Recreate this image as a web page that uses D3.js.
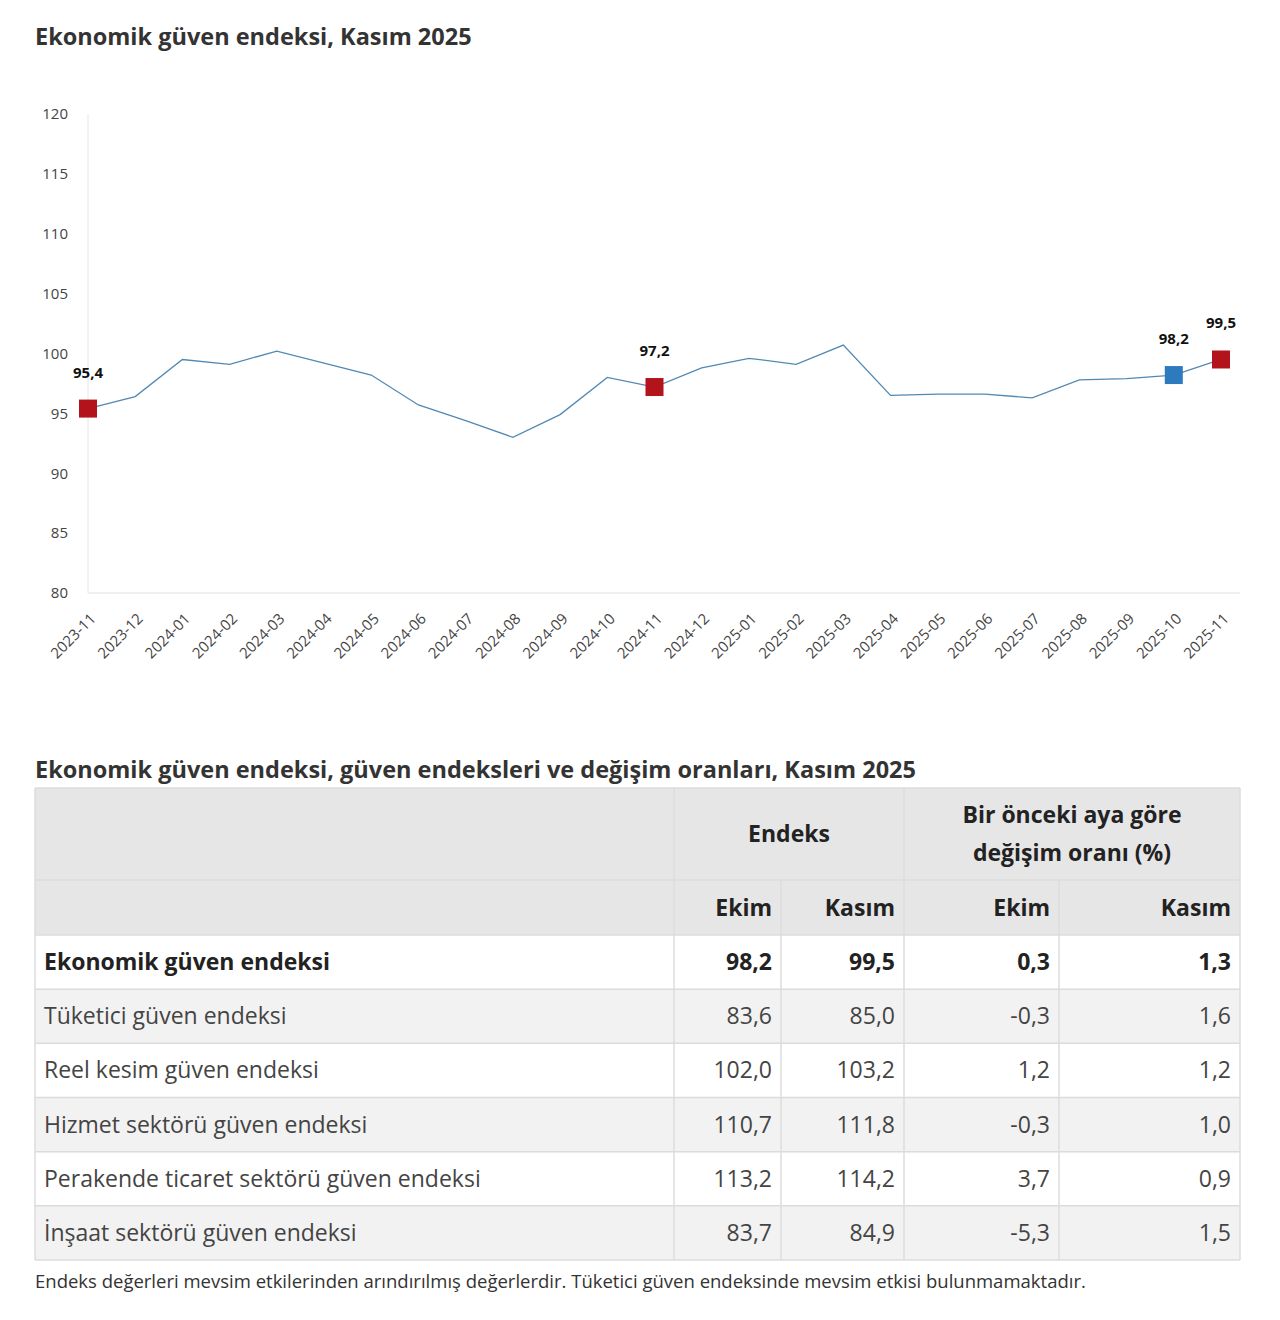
<!DOCTYPE html>
<html>
<head>
<meta charset="utf-8">
<script src="https://cdn.jsdelivr.net/npm/d3@7"></script>
<style>
  body { margin: 0; background: #fff; }
  svg { display: block; font-family: "Open Sans", sans-serif; }
  .tick-y { font-size: 15px; fill: #444; }
  .tick-x { font-size: 15px; fill: #444; }
</style>
</head>
<body>
<svg class="main" width="1280" height="1320"></svg>
<script>
// chart data
const months = [
  "2023-11", "2023-12", "2024-01", "2024-02", "2024-03", "2024-04", "2024-05",
  "2024-06", "2024-07", "2024-08", "2024-09", "2024-10", "2024-11", "2024-12",
  "2025-01", "2025-02", "2025-03", "2025-04", "2025-05", "2025-06", "2025-07",
  "2025-08", "2025-09", "2025-10", "2025-11"
];
const values = [
  95.4, 96.4, 99.5, 99.1, 100.2, 99.2, 98.2, 95.7, 94.4, 93.0, 94.9, 98.0,
  97.2, 98.8, 99.6, 99.1, 100.7, 96.5, 96.6, 96.6, 96.3, 97.8, 97.9, 98.2, 99.5
];
const yTicks = [80, 85, 90, 95, 100, 105, 110, 115, 120];
// highlighted points
const markedRed = ["2023-11", "2024-11", "2025-11"];
const markedBlue = ["2025-10"];

// table data
const rowNames = [
  "Ekonomik güven endeksi",
  "Tüketici güven endeksi",
  "Reel kesim güven endeksi",
  "Hizmet sektörü güven endeksi",
  "Perakende ticaret sektörü güven endeksi",
  "İnşaat sektörü güven endeksi"
];
const indexEkim = ["98,2", "83,6", "102,0", "110,7", "113,2", "83,7"];
const indexKasim = ["99,5", "85,0", "103,2", "111,8", "114,2", "84,9"];
const changeEkim = ["0,3", "-0,3", "1,2", "-0,3", "3,7", "-5,3"];
const changeKasim = ["1,3", "1,6", "1,2", "1,0", "0,9", "1,5"];

const svg = d3.select(".main");

// ---- chart ----
svg.append("text")
  .attr("x", 35).attr("y", 45)
  .attr("font-size", 23.5).attr("font-weight", 700).attr("fill", "#333")
  .text("Ekonomik güven endeksi, Kasım 2025");

const x = d3.scalePoint().domain(months).range([88, 1221]);
const y = d3.scaleLinear().domain([80, 120]).range([593, 114]);

const chart = svg.append("g");

chart.append("line")
  .attr("x1", 88).attr("x2", 88)
  .attr("y1", y(120)).attr("y2", y(80))
  .attr("stroke", "#e6e6e6");
chart.append("line")
  .attr("x1", 88).attr("x2", 1240)
  .attr("y1", y(80)).attr("y2", y(80))
  .attr("stroke", "#e0e0e0");

chart.selectAll(".tick-y")
  .data(yTicks)
  .join("text")
  .attr("class", "tick-y")
  .attr("x", 68)
  .attr("y", d => y(d))
  .attr("dy", "0.35em")
  .attr("text-anchor", "end")
  .text(d => d);

chart.selectAll(".tick-x")
  .data(months)
  .join("text")
  .attr("class", "tick-x")
  .attr("transform", d => `translate(${x(d) + 5},${616}) rotate(-45)`)
  .attr("text-anchor", "end")
  .attr("dy", "0.35em")
  .text(d => d);

const line = d3.line()
  .x((d, i) => x(months[i]))
  .y(d => y(d));

chart.append("path")
  .datum(values)
  .attr("d", line)
  .attr("fill", "none")
  .attr("stroke", "#5289b3")
  .attr("stroke-width", 1.3);

const marked = months
  .map((m, i) => ({ m, v: values[i] }))
  .filter(d => markedRed.includes(d.m) || markedBlue.includes(d.m));

const size = 18;
chart.selectAll(".marker")
  .data(marked)
  .join("rect")
  .attr("class", "marker")
  .attr("x", d => x(d.m) - size / 2)
  .attr("y", d => y(d.v) - size / 2)
  .attr("width", size)
  .attr("height", size)
  .attr("fill", d => (markedBlue.includes(d.m) ? "#2e7abf" : "#b3141c"));

chart.selectAll(".label")
  .data(marked)
  .join("text")
  .attr("class", "label")
  .attr("x", d => x(d.m))
  .attr("y", d => y(d.v) - 31)
  .attr("text-anchor", "middle")
  .attr("font-size", 15)
  .attr("font-weight", 700)
  .attr("fill", "#111")
  .text(d => d.v.toFixed(1).replace(".", ","));

// ---- table ----
svg.append("text")
  .attr("x", 35).attr("y", 778)
  .attr("font-size", 23.5).attr("font-weight", 700).attr("fill", "#333")
  .text("Ekonomik güven endeksi, güven endeksleri ve değişim oranları, Kasım 2025");

const cols = [35, 674, 781, 904, 1059, 1240];
const headTop = 788, headMid = 880, bodyTop = 935;
const rowH = (1260 - bodyTop) / rowNames.length;
const table = svg.append("g");
const border = "#dcdcdc";

table.append("rect")
  .attr("x", cols[0]).attr("y", headTop)
  .attr("width", cols[5] - cols[0]).attr("height", bodyTop - headTop)
  .attr("fill", "#e6e6e6");

const rows = table.selectAll(".row")
  .data(rowNames)
  .join("g")
  .attr("class", "row")
  .attr("transform", (d, i) => `translate(0,${bodyTop + i * rowH})`);

rows.append("rect")
  .attr("x", cols[0]).attr("width", cols[5] - cols[0]).attr("height", rowH)
  .attr("fill", (d, i) => (i % 2 === 1 ? "#f2f2f2" : "#fff"));

const cellText = (sel, i) => sel
  .attr("y", rowH / 2)
  .attr("dy", "0.35em")
  .attr("font-size", 23)
  .attr("font-weight", i === 0 ? 700 : 400)
  .attr("fill", i === 0 ? "#222" : "#444");

rows.each(function (name, i) {
  const g = d3.select(this);
  cellText(g.append("text"), i).attr("x", cols[0] + 9).text(name);
  [indexEkim, indexKasim, changeEkim, changeKasim].forEach((arr, c) => {
    cellText(g.append("text"), i)
      .attr("x", cols[c + 2] - 9)
      .attr("text-anchor", "end")
      .text(arr[i]);
  });
});

// grid lines
const hLines = [headTop, headMid, bodyTop].concat(rowNames.map((d, i) => bodyTop + (i + 1) * rowH));
table.selectAll(".hline")
  .data(hLines)
  .join("line")
  .attr("x1", cols[0]).attr("x2", cols[5])
  .attr("y1", d => d).attr("y2", d => d)
  .attr("stroke", border).attr("stroke-width", 1.5);

table.selectAll(".vline")
  .data(cols)
  .join("line")
  .attr("x1", d => d).attr("x2", d => d)
  .attr("y1", (d, i) => (i === 2 || i === 4 ? headMid : headTop))
  .attr("y2", 1260)
  .attr("stroke", border).attr("stroke-width", 1.5);

// header texts
const head = table.append("g")
  .attr("font-size", 23).attr("font-weight", 700).attr("fill", "#222");

head.append("text")
  .attr("x", (cols[1] + cols[3]) / 2).attr("y", (headTop + headMid) / 2)
  .attr("dy", "0.35em").attr("text-anchor", "middle")
  .text("Endeks");

head.append("text")
  .attr("x", (cols[3] + cols[5]) / 2).attr("y", 815)
  .attr("dy", "0.35em").attr("text-anchor", "middle")
  .text("Bir önceki aya göre");
head.append("text")
  .attr("x", (cols[3] + cols[5]) / 2).attr("y", 853)
  .attr("dy", "0.35em").attr("text-anchor", "middle")
  .text("değişim oranı (%)");

["Ekim", "Kasım", "Ekim", "Kasım"].forEach((t, c) => {
  head.append("text")
    .attr("x", cols[c + 2] - 9).attr("y", (headMid + bodyTop) / 2)
    .attr("dy", "0.35em").attr("text-anchor", "end")
    .text(t);
});

svg.append("text")
  .attr("x", 35).attr("y", 1288)
  .attr("font-size", 18.5).attr("fill", "#333")
  .text("Endeks değerleri mevsim etkilerinden arındırılmış değerlerdir. Tüketici güven endeksinde mevsim etkisi bulunmamaktadır.");
</script>
</body>
</html>
